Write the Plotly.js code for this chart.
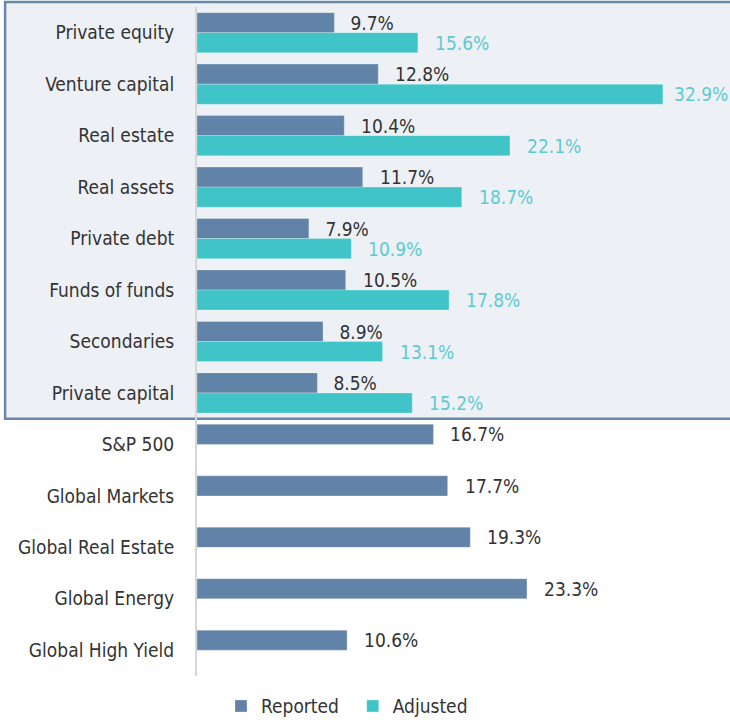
<!DOCTYPE html>
<html>
<head>
<meta charset="utf-8">
<script src="https://cdn.plot.ly/plotly-3.0.1.min.js"></script>
<style>
html,body{margin:0;padding:0;background:#fff;}
#chart{width:730px;height:721px;}
#chart svg text{font-stretch:condensed !important;}
</style>
</head>
<body>
<div id="chart"></div>
<script>
const categories = ["Private equity","Venture capital","Real estate","Real assets","Private debt","Funds of funds","Secondaries","Private capital","S&P 500","Global Markets","Global Real Estate","Global Energy","Global High Yield"];
const reported = [9.7, 12.8, 10.4, 11.7, 7.9, 10.5, 8.9, 8.5, 16.7, 17.7, 19.3, 23.3, 10.6];
const adjusted = [15.6, 32.9, 22.1, 18.7, 10.9, 17.8, 13.1, 15.2, null, null, null, null, null];
const seriesNames = ["Reported", "Adjusted"];

const FONT = '"DejaVu Sans", sans-serif';
const C_REP = '#6283a8', C_ADJ = '#41c4c8';
const C_REP_TXT = '#333333', C_ADJ_TXT = '#5ccbd1';
const XMAX = 37.64;

const traces = [
  {type:'bar', orientation:'h', name:seriesNames[0], y:categories, x:reported,
   marker:{color:C_REP, line:{color:'rgba(255,255,255,0.5)', width:0.5}}, hoverinfo:'x+y'},
  {type:'bar', orientation:'h', name:seriesNames[1], y:categories, x:adjusted,
   marker:{color:C_ADJ, line:{color:'rgba(255,255,255,0.5)', width:0.5}}, hoverinfo:'x+y'}
];

const annotations = [];
const half = 10;
const shiftFor = v => (v > XMAX * 0.8 ? 6 : 12);
categories.forEach((c,i) => {
  if (reported[i] != null) annotations.push({x:reported[i], y:c, xref:'x', yref:'y', text:reported[i].toFixed(1)+'%',
    showarrow:false, xanchor:'left', yanchor:'middle', xshift:shiftFor(reported[i]), yshift:half, font:{family:FONT, size:19, color:C_REP_TXT}});
  if (adjusted[i] != null) annotations.push({x:adjusted[i], y:c, xref:'x', yref:'y', text:adjusted[i].toFixed(1)+'%',
    showarrow:false, xanchor:'left', yanchor:'middle', xshift:shiftFor(adjusted[i]), yshift:-half, font:{family:FONT, size:19, color:C_ADJ_TXT}});
});

// shaded box around the private-market categories (those with an adjusted value)
const nPrivate = adjusted.filter(v => v != null).length;
const boxBottom = 1 - nPrivate / categories.length;

const layout = {
  width:730, height:721,
  margin:{l:197, r:0, t:7, b:45, autoexpand:false},
  paper_bgcolor:'#ffffff', plot_bgcolor:'rgba(0,0,0,0)',
  font:{family:FONT, size:19, color:'#333333'},
  barmode:'group', bargap:0.22, bargroupgap:0,
  showlegend:true,
  legend:{orientation:'h', x:0.045, xanchor:'left', y:-0.045, yanchor:'middle',
          font:{family:FONT, size:19, color:'#333333'}, bgcolor:'rgba(0,0,0,0)', itemwidth:30},
  xaxis:{range:[0, XMAX], showgrid:false, zeroline:false, showticklabels:false, showline:false, fixedrange:true},
  yaxis:{type:'category', range:[categories.length - 0.5, -0.5], showgrid:false, zeroline:false, showline:true,
         linecolor:'#d6d6d6', linewidth:2, ticks:'', ticklabelstandoff:17,
         tickfont:{family:FONT, size:19, color:'#333333'}, fixedrange:true},
  shapes:[{type:'rect', layer:'below', xref:'paper', yref:'paper', x0:-0.36, x1:1.02, y0:boxBottom, y1:1.0075,
           fillcolor:'#edf1f5', line:{color:'#6a87a8', width:2.5}}],
  annotations:annotations
};

Plotly.newPlot('chart', traces, layout, {displayModeBar:false, staticPlot:true});
</script>
</body>
</html>
